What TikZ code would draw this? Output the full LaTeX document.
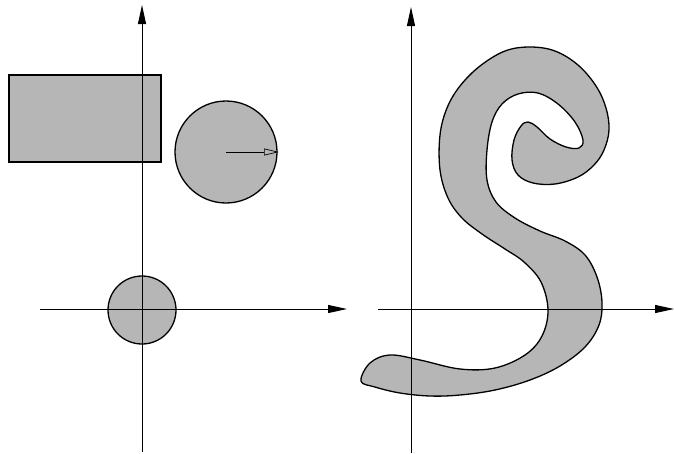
\documentclass[tikz,border=0pt]{standalone}
\usepackage{tikz}
\usetikzlibrary{arrows.meta}
\definecolor{dotGray}{RGB}{182,182,182}

\begin{document}
\begin{tikzpicture}[x=1pt, y=-1pt,
    region/.style={fill=dotGray, draw=black, line width=1.3pt},
    axis/.style={line width=1pt, -{Triangle[length=19pt, width=8pt]}}]
    \useasboundingbox (0,0) rectangle (674,453);
    % left panel
    \draw[region] (9,75) rectangle (161,162);
    \draw[region] (226,152) circle (51);
    \draw[region] (142,310) circle (34);
    \draw[line width=0.7pt, -{Triangle[open, length=15pt, width=7pt]}] (226,152) -- (279,152);
    \draw[axis] (142,452) -- (142,5);
    \draw[axis] (40,309) -- (347,309);
    % right panel
    \draw[region] plot[smooth cycle, tension=0.6] coordinates {
      (361,381) (370,363) (390,355) (420,360) (460,369) (495,368) (525,355)
      (542,336) (548,310) (541,282) (524,262) (505,249) (482,234) (462,218)
      (448,198) (440,170) (440,135) (447,108) (460,86) (480,66) (505,51)
      (530,47) (555,51) (578,65) (596,86) (606,108) (609,130) (604,150)
      (594,165) (578,177) (555,184) (533,183) (518,175) (512,160) (514,140)
      (521,126) (528,122) (537,127) (550,139) (566,147) (579,148) (583,140)
      (575,122) (558,104) (538,93) (518,94) (502,104) (492,122) (487,150)
      (487,180) (496,202) (515,218) (540,231) (565,241) (585,255) (597,277)
      (602,302) (599,325) (585,347) (560,366) (530,380) (495,390) (460,395)
      (430,396) (400,393) (375,387)};
    \draw[axis] (411,453) -- (411,7);
    \draw[axis] (378,309) -- (674,309);
\end{tikzpicture}
\end{document}
